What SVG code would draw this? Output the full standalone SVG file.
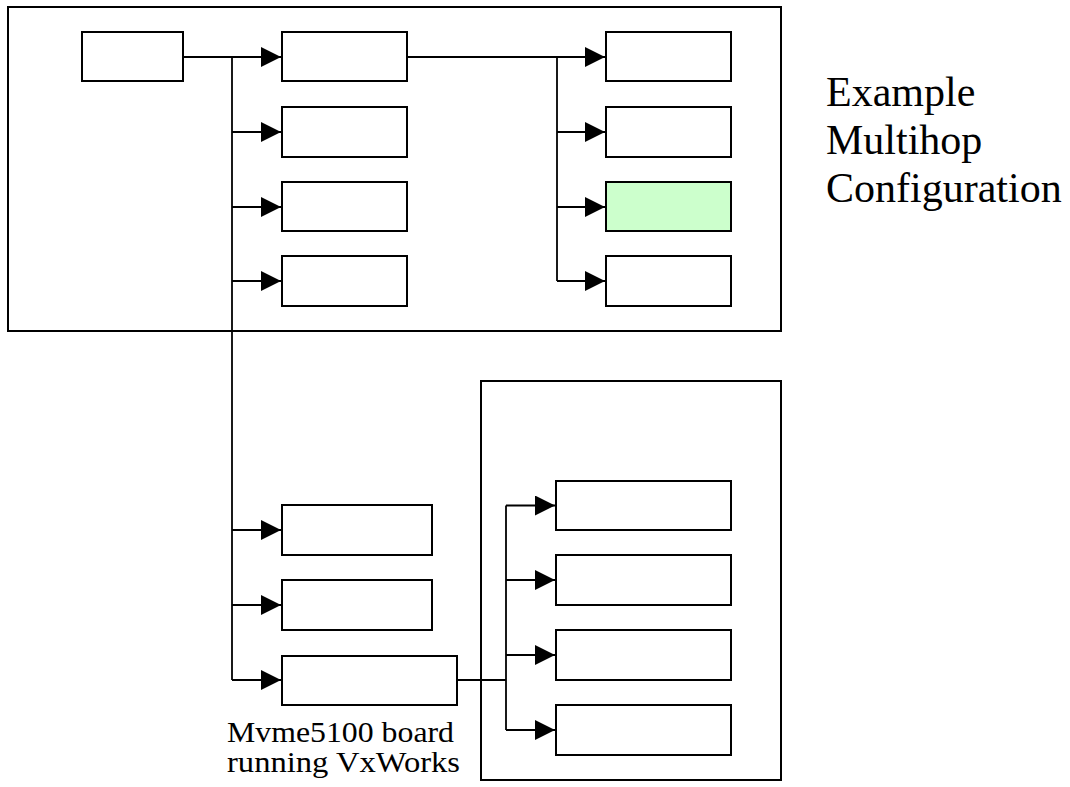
<svg xmlns="http://www.w3.org/2000/svg" width="1070" height="787" viewBox="0 0 1070 787">
  <style>
    .frame { fill: none; stroke: #000; stroke-width: 2; }
    .node { fill: #fff; stroke: #000; stroke-width: 2; }
    .hot { fill: #ccffcc; }
    .wire { fill: none; stroke: #000; stroke-width: 1.8; }
    .lbl { font-family: "Liberation Serif", "Times New Roman", serif; fill: #000; }
  </style>
  <defs>
    <marker id="arrow" markerUnits="userSpaceOnUse" markerWidth="21" markerHeight="21" refX="20" refY="10" orient="auto">
      <path d="M0,0 L20,10 L0,20 Z" fill="#000"/>
    </marker>
  </defs>

  <!-- enclosing frames -->
  <g id="frame-top"><rect class="frame" x="8" y="7" width="773" height="324"/></g>
  <g id="frame-bottom"><rect class="frame" x="481" y="381" width="300" height="399"/></g>

  <!-- connectors -->
  <g id="connectors">
    <!-- root to first column -->
    <path class="wire" d="M183,57 H281" marker-end="url(#arrow)"/>
    <path class="wire" d="M232,57 V680"/>
    <path class="wire" d="M232,132 H281" marker-end="url(#arrow)"/>
    <path class="wire" d="M232,207 H281" marker-end="url(#arrow)"/>
    <path class="wire" d="M232,281 H281" marker-end="url(#arrow)"/>
    <path class="wire" d="M232,530 H281" marker-end="url(#arrow)"/>
    <path class="wire" d="M232,605 H281" marker-end="url(#arrow)"/>
    <path class="wire" d="M232,680 H281" marker-end="url(#arrow)"/>
    <!-- first column to second column -->
    <path class="wire" d="M407,57 H605" marker-end="url(#arrow)"/>
    <path class="wire" d="M557,57 V281"/>
    <path class="wire" d="M557,132 H605" marker-end="url(#arrow)"/>
    <path class="wire" d="M557,207 H605" marker-end="url(#arrow)"/>
    <path class="wire" d="M557,281 H605" marker-end="url(#arrow)"/>
    <!-- board to lower group -->
    <path class="wire" d="M457,680 H506"/>
    <path class="wire" d="M506,505.5 V730"/>
    <path class="wire" d="M506,505.5 H555" marker-end="url(#arrow)"/>
    <path class="wire" d="M506,580 H555" marker-end="url(#arrow)"/>
    <path class="wire" d="M506,655 H555" marker-end="url(#arrow)"/>
    <path class="wire" d="M506,730 H555" marker-end="url(#arrow)"/>
  </g>

  <!-- nodes -->
  <g id="root"><rect class="node" x="82" y="32" width="101" height="49"/></g>

  <g id="a1"><rect class="node" x="282" y="32" width="125" height="49"/></g>
  <g id="a2"><rect class="node" x="282" y="107" width="125" height="50"/></g>
  <g id="a3"><rect class="node" x="282" y="182" width="125" height="49"/></g>
  <g id="a4"><rect class="node" x="282" y="256" width="125" height="50"/></g>

  <g id="b1"><rect class="node" x="606" y="32" width="125" height="49"/></g>
  <g id="b2"><rect class="node" x="606" y="107" width="125" height="50"/></g>
  <g id="b3"><rect class="node hot" x="606" y="182" width="125" height="49"/></g>
  <g id="b4"><rect class="node" x="606" y="256" width="125" height="50"/></g>

  <g id="c1"><rect class="node" x="282" y="505" width="150" height="50"/></g>
  <g id="c2"><rect class="node" x="282" y="580" width="150" height="50"/></g>
  <g id="board">
    <rect class="node" x="282" y="656" width="175" height="49"/>
    <text class="lbl" x="227" y="742" font-size="30" textLength="227" lengthAdjust="spacingAndGlyphs">Mvme5100 board</text>
    <text class="lbl" x="227" y="772" font-size="30" textLength="233" lengthAdjust="spacingAndGlyphs">running VxWorks</text>
  </g>

  <g id="d1"><rect class="node" x="556" y="481" width="175" height="49"/></g>
  <g id="d2"><rect class="node" x="556" y="555" width="175" height="50"/></g>
  <g id="d3"><rect class="node" x="556" y="630" width="175" height="50"/></g>
  <g id="d4"><rect class="node" x="556" y="705" width="175" height="50"/></g>

  <!-- title -->
  <g id="title">
    <text class="lbl" font-size="42">
      <tspan x="826" y="106">Example</tspan>
      <tspan x="826" y="154">Multihop</tspan>
      <tspan x="826" y="202">Configuration</tspan>
    </text>
  </g>
</svg>
